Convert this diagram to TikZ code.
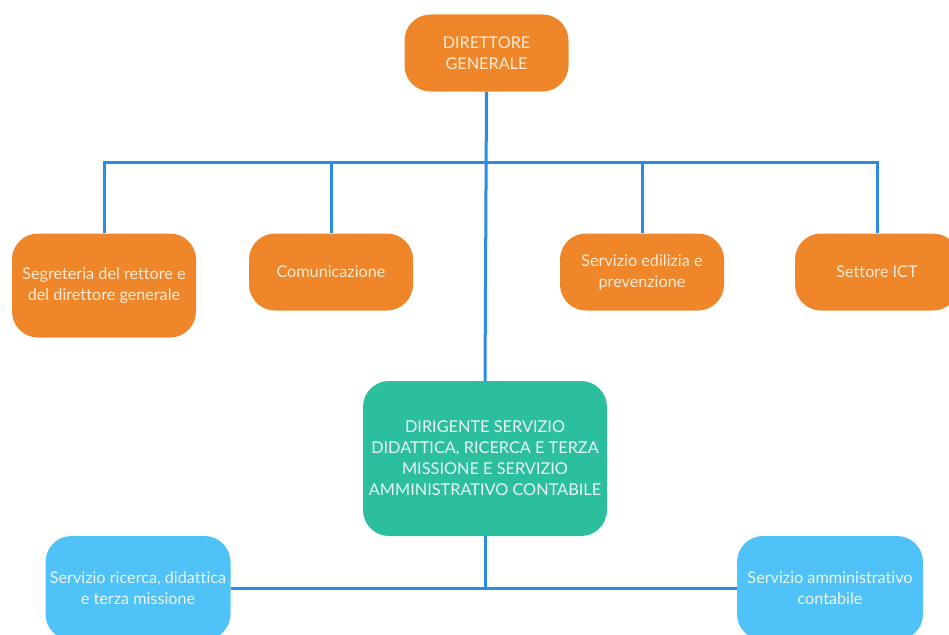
\documentclass[tikz,border=0pt]{standalone}
\usepackage{fontspec}
\setmainfont{Lato}[Ligatures=NoCommon]
\definecolor{orangebox}{HTML}{F0862A}
\definecolor{greenbox}{HTML}{2BBF9E}
\definecolor{bluebox}{HTML}{4FC2F8}
\definecolor{linkblue}{HTML}{2B8CE8}
\definecolor{ortext}{HTML}{FCEBD6}
\definecolor{lighttext}{HTML}{EAF7F4}
\begin{document}
\begin{tikzpicture}[x=1pt,y=-1pt,
  box/.style={rounded corners=26pt, inner sep=0pt, align=center,
    font=\fontsize{16.2}{21}\selectfont},
  orbox/.style={box, fill=orangebox, text=ortext},
  grbox/.style={box, fill=greenbox, text=lighttext, font=\fontsize{16.3}{21}\selectfont},
  blbox/.style={box, fill=bluebox, text=lighttext},
  conn/.style={draw=linkblue, line width=3pt}]
\useasboundingbox (0,0) rectangle (949,634);
% nodes
\node[orbox, minimum width=164pt, minimum height=77pt] (top) at (486.5,53) {DIRETTORE\\GENERALE};
\node[orbox, minimum width=184pt, minimum height=104pt] (seg) at (104,285.5) {Segreteria del rettore e\\del direttore generale};
\node[orbox, minimum width=164pt, minimum height=77pt] (com) at (331,272) {Comunicazione};
\node[orbox, minimum width=164pt, minimum height=77pt] (edi) at (642,272) {Servizio edilizia e\\prevenzione};
\node[orbox, minimum width=164pt, minimum height=77pt] (ict) at (877,272) {Settore ICT};
\node[grbox, minimum width=244pt, minimum height=155pt] (dir) at (485,458.5) {DIRIGENTE SERVIZIO\\DIDATTICA, RICERCA E TERZA\\MISSIONE E SERVIZIO\\AMMINISTRATIVO CONTABILE};
\node[blbox, minimum width=185pt, minimum height=104pt] (ric) at (138,588) {Servizio ricerca, didattica\\e terza missione};
\node[blbox, minimum width=186pt, minimum height=104pt] (amm) at (830,588) {Servizio amministrativo\\contabile};
\coordinate (bus) at (486,162);
% connectors
\draw[conn] (top.south) -- (dir.north);
\draw[conn] (seg.north) |- (bus) -| (ict.north);
\draw[conn] (com.north) -- (com.north |- bus);
\draw[conn] (edi.north) -- (edi.north |- bus);
\draw[conn] (ric.east) -- (amm.west);
\draw[conn] (dir.south) -- (dir.south |- ric.east);
\end{tikzpicture}
\end{document}
